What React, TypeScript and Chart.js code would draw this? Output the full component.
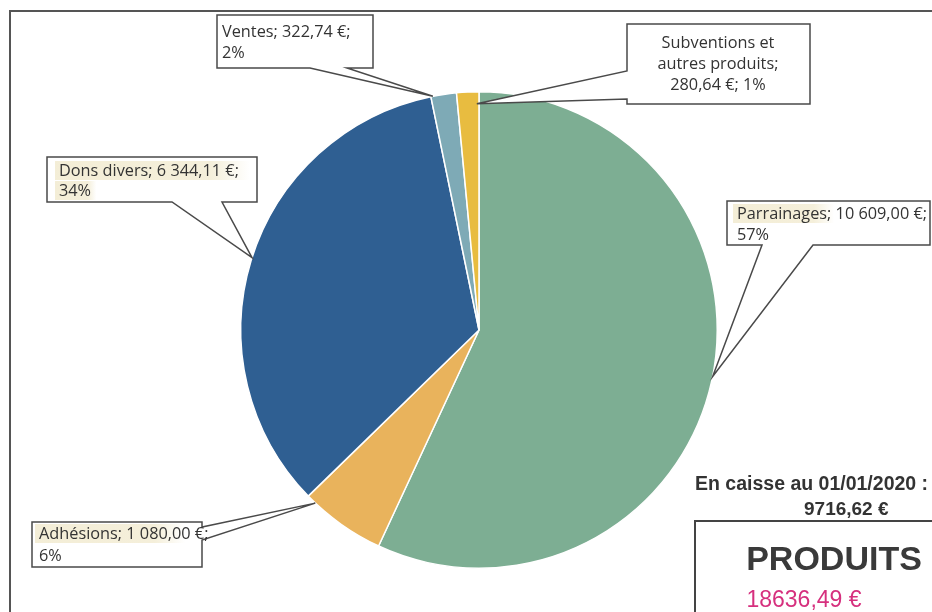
import React, { useEffect, useRef } from 'react';
import { Chart, registerables } from 'chart.js';

Chart.register(...registerables);

const categories = ['Parrainages', 'Adhésions', 'Dons divers', 'Ventes', 'Subventions et autres produits'];
const values = [10609.0, 1080.0, 6344.11, 322.74, 280.64];
const percentLabels = ['57%', '6%', '34%', '2%', '1%'];
const sliceColors = ['#7dae93', '#e9b35c', '#2f5f92', '#7eaab6', '#e8bc40'];
const cashTitle = 'En caisse au 01/01/2020 :';
const cashLabel = '9716,62 €';
const totalTitle = 'PRODUITS';
const totalLabel = '18636,49 €';

function fmtEuro(v: number): string {
  const [i, d] = v.toFixed(2).split('.');
  const ii = i.replace(/\B(?=(\d{3})+(?!\d))/g, '\u00a0');
  return `${ii},${d}\u00a0€`;
}

type Pt = [number, number] | 'tip';
interface Callout {
  box: [number, number, number, number];
  poly: Pt[];
  align: 'left' | 'center';
  textX: number;
  breaks: number[];
  baselines: number[];
  f: number;
  k: number;
  highlights: [number, number][]; // [line index, fraction of line width]
}

// layout per slice (same order as categories)
const callouts: Callout[] = [
  {
    box: [727, 201, 203, 44],
    poly: [[727, 201], [930, 201], [930, 245], [813, 245], 'tip', [762, 245], [727, 245]],
    align: 'left', textX: 737, breaks: [2, 1], baselines: [219, 240], f: 0.494, k: 1.0,
    highlights: [[0, 0.5]],
  },
  {
    box: [32, 522, 170, 45],
    poly: [[32, 522], [202, 522], [202, 527], 'tip', [202, 540], [202, 567], [32, 567]],
    align: 'left', textX: 39, breaks: [2, 1], baselines: [539, 561], f: 0.885, k: 1.0,
    highlights: [[0, 0.85]],
  },
  {
    box: [47, 157, 210, 45],
    poly: [[47, 157], [257, 157], [257, 202], [222, 202], 'tip', [172, 202], [47, 202]],
    align: 'left', textX: 59, breaks: [3, 1], baselines: [176, 196], f: 0.505, k: 1.0,
    highlights: [[0, 1.05], [1, 1.1]],
  },
  {
    box: [217, 15, 156, 53],
    poly: [[217, 15], [373, 15], [373, 68], [347, 68], 'tip', [310, 68], [217, 68]],
    align: 'left', textX: 222, breaks: [2, 1], baselines: [37, 58], f: 0.08, k: 1.0,
    highlights: [],
  },
  {
    box: [627, 24, 183, 80],
    poly: [[627, 24], [810, 24], [810, 104], [627, 104], [627, 99], 'tip', [627, 71]],
    align: 'center', textX: 718, breaks: [2, 2, 2], baselines: [48, 69, 90], f: 0.9, k: 0.95,
    highlights: [],
  },
];

const LABEL_FONT = '16.3px "Open Sans", "Noto Sans", sans-serif';

const overlayPlugin = {
  id: 'overlay',
  beforeDraw(chart: any) {
    const ctx = chart.ctx;
    ctx.save();
    ctx.fillStyle = '#ffffff';
    ctx.fillRect(0, 0, chart.width, chart.height);
    ctx.restore();
  },
  afterDraw(chart: any) {
    const ctx: CanvasRenderingContext2D = chart.ctx;
    const meta = chart.getDatasetMeta(0);
    ctx.save();
    // outer frame
    ctx.strokeStyle = '#555555';
    ctx.lineWidth = 2;
    ctx.beginPath();
    ctx.moveTo(932, 11);
    ctx.lineTo(10, 11);
    ctx.lineTo(10, 612);
    ctx.stroke();

    meta.data.forEach((arc: any, i: number) => {
      const c = callouts[i];
      if (!c) return;
      const p = arc.getProps(['x', 'y', 'startAngle', 'endAngle', 'outerRadius'], true);
      const a = p.startAngle + c.f * (p.endAngle - p.startAngle);
      const tx = p.x + Math.cos(a) * p.outerRadius * c.k;
      const ty = p.y + Math.sin(a) * p.outerRadius * c.k;
      // callout shape
      ctx.beginPath();
      c.poly.forEach((pt, j) => {
        const [px, py] = pt === 'tip' ? [tx, ty] : pt;
        if (j === 0) ctx.moveTo(px, py);
        else ctx.lineTo(px, py);
      });
      ctx.closePath();
      ctx.fillStyle = '#ffffff';
      ctx.fill();
      ctx.strokeStyle = '#4a4a4a';
      ctx.lineWidth = 1.5;
      ctx.lineJoin = 'miter';
      ctx.stroke();
      // text lines
      const words = categories[i].split(' ');
      words[words.length - 1] += ';';
      const tokens = [...words, fmtEuro(values[i]) + ';', percentLabels[i]];
      const lines: string[] = [];
      let idx = 0;
      c.breaks.forEach((n) => {
        lines.push(tokens.slice(idx, idx + n).join(' '));
        idx += n;
      });
      ctx.font = LABEL_FONT;
      // highlights (scanned highlighter marks)
      c.highlights.forEach(([li, frac]) => {
        const w = ctx.measureText(lines[li]).width * frac;
        const x0 = c.textX - 4;
        const y0 = c.baselines[li] - 15;
        const g = ctx.createLinearGradient(x0, 0, x0 + w + 6, 0);
        g.addColorStop(0, 'rgba(236, 226, 188, 0.6)');
        g.addColorStop(0.8, 'rgba(236, 226, 188, 0.55)');
        g.addColorStop(1, 'rgba(236, 226, 188, 0)');
        ctx.fillStyle = g;
        ctx.fillRect(x0, y0, w + 6, 19);
      });
      ctx.fillStyle = '#333333';
      ctx.textBaseline = 'alphabetic';
      lines.forEach((ln, j) => {
        ctx.textAlign = c.align === 'center' ? 'center' : 'left';
        ctx.fillText(ln, c.textX, c.baselines[j]);
      });
    });

    // cash text
    ctx.fillStyle = '#333333';
    ctx.textAlign = 'left';
    ctx.font = 'bold 19.5px "Liberation Sans", Arial, sans-serif';
    ctx.fillText(cashTitle, 695, 490);
    ctx.font = 'bold 19px "Liberation Sans", Arial, sans-serif';
    ctx.fillText(cashLabel, 804, 515);

    // totals box
    ctx.strokeStyle = '#444444';
    ctx.lineWidth = 2;
    ctx.beginPath();
    ctx.moveTo(932, 521);
    ctx.lineTo(695, 521);
    ctx.lineTo(695, 612);
    ctx.stroke();

    ctx.textAlign = 'center';
    ctx.fillStyle = '#3a3a3a';
    ctx.font = 'bold 34px "Liberation Sans", Arial, sans-serif';
    ctx.fillText(totalTitle, 834, 570);
    ctx.fillStyle = '#d6307e';
    ctx.font = '23px "Liberation Sans", Arial, sans-serif';
    ctx.fillText(totalLabel, 804, 607);
    ctx.restore();
  },
};

export default function App() {
  const ref = useRef<HTMLCanvasElement | null>(null);
  useEffect(() => {
    if (!ref.current) return;
    const chart = new Chart(ref.current, {
      type: 'pie',
      data: {
        labels: categories,
        datasets: [
          {
            data: values,
            backgroundColor: sliceColors,
            borderColor: '#ffffff',
            borderWidth: 1.5,
          },
        ],
      },
      options: {
        responsive: false,
        animation: false,
        layout: { padding: { left: 240, right: 214, top: 91, bottom: 43 } },
        plugins: {
          legend: { display: false },
          tooltip: { enabled: false },
          title: { display: false },
        },
      },
      plugins: [overlayPlugin],
    });
    return () => chart.destroy();
  }, []);
  return (
    <div style={{ position: 'absolute', left: 0, top: 0, width: 932, height: 612 }}>
      <canvas ref={ref} width={932} height={612} style={{ display: 'block' }} />
    </div>
  );
}
